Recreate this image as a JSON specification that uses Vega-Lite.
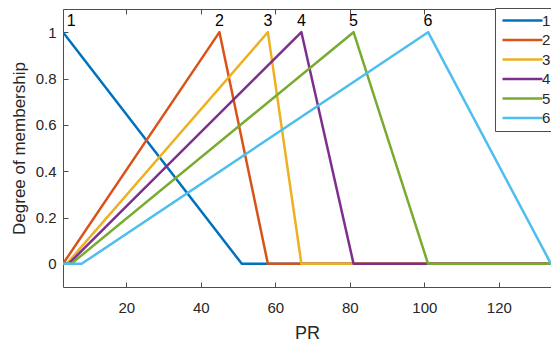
{
  "$schema": "https://vega.github.io/schema/vega-lite/v6.json",
  "autosize": "none",
  "padding": {"left": 63, "top": 9, "right": 0, "bottom": 55},
  "width": 488,
  "height": 278,
  "background": "white",
  "config": {
    "view": {"stroke": null},
    "font": "Liberation Sans",
    "axis": {
      "grid": false,
      "domainColor": "#4d4d4d",
      "tickColor": "#4d4d4d",
      "labelColor": "#262626",
      "titleColor": "#262626",
      "labelFont": "Liberation Sans",
      "titleFont": "Liberation Sans",
      "labelFontSize": 15,
      "titleFontSize": 18,
      "titleFontWeight": "normal",
      "tickSize": -5
    }
  },
  "datasets": {
    "curves": [
      {"set": "1", "order": 1, "pr": 3, "mu": 1},
      {"set": "1", "order": 2, "pr": 51, "mu": 0},
      {"set": "1", "order": 3, "pr": 134, "mu": 0},
      {"set": "2", "order": 1, "pr": 3, "mu": 0},
      {"set": "2", "order": 2, "pr": 45, "mu": 1},
      {"set": "2", "order": 3, "pr": 58, "mu": 0},
      {"set": "2", "order": 4, "pr": 134, "mu": 0},
      {"set": "3", "order": 1, "pr": 3, "mu": 0},
      {"set": "3", "order": 2, "pr": 4, "mu": 0},
      {"set": "3", "order": 3, "pr": 58, "mu": 1},
      {"set": "3", "order": 4, "pr": 67, "mu": 0},
      {"set": "3", "order": 5, "pr": 134, "mu": 0},
      {"set": "4", "order": 1, "pr": 3, "mu": 0},
      {"set": "4", "order": 2, "pr": 4.5, "mu": 0},
      {"set": "4", "order": 3, "pr": 67, "mu": 1},
      {"set": "4", "order": 4, "pr": 81, "mu": 0},
      {"set": "4", "order": 5, "pr": 134, "mu": 0},
      {"set": "5", "order": 1, "pr": 3, "mu": 0},
      {"set": "5", "order": 2, "pr": 5.2, "mu": 0},
      {"set": "5", "order": 3, "pr": 81, "mu": 1},
      {"set": "5", "order": 4, "pr": 101, "mu": 0},
      {"set": "5", "order": 5, "pr": 134, "mu": 0},
      {"set": "6", "order": 1, "pr": 3, "mu": 0},
      {"set": "6", "order": 2, "pr": 8, "mu": 0},
      {"set": "6", "order": 3, "pr": 101, "mu": 1},
      {"set": "6", "order": 4, "pr": 134, "mu": 0}
    ],
    "labels": [
      {"label": "1", "pr": 5.2, "mu": 1.05},
      {"label": "2", "pr": 45, "mu": 1.05},
      {"label": "3", "pr": 58, "mu": 1.05},
      {"label": "4", "pr": 67, "mu": 1.05},
      {"label": "5", "pr": 81, "mu": 1.05},
      {"label": "6", "pr": 101, "mu": 1.05}
    ]
  },
  "resolve": {"axis": {"x": "independent"}},
  "layer": [
    {
      "data": {"name": "curves"},
      "mark": {"type": "line", "strokeWidth": 2.5, "strokeJoin": "round", "clip": true},
      "encoding": {
        "x": {
          "field": "pr", "type": "quantitative",
          "scale": {"domain": [3, 134], "nice": false, "zero": false},
          "axis": {"title": "PR", "values": [20, 40, 60, 80, 100, 120], "labelPadding": 18, "titlePadding": 9}
        },
        "y": {
          "field": "mu", "type": "quantitative",
          "scale": {"domain": [-0.1, 1.1], "nice": false},
          "axis": {"title": "Degree of membership", "values": [0, 0.2, 0.4, 0.6, 0.8, 1], "format": ".1~f", "labelPadding": 12, "titlePadding": 7, "titleFontSize": 17}
        },
        "color": {
          "field": "set", "type": "nominal",
          "scale": {"domain": ["1", "2", "3", "4", "5", "6"], "range": ["#0072BD", "#D95319", "#EDB120", "#7E2F8E", "#77AC30", "#4DBEEE"]},
          "legend": {
            "title": null,
            "orient": "none",
            "legendX": 432,
            "legendY": -1,
            "symbolType": "M-1,0H7",
            "symbolSize": 100,
            "symbolStrokeWidth": 2.5,
            "labelFontSize": 15,
            "labelColor": "#262626",
            "labelFont": "Liberation Sans",
            "labelOffset": 27,
            "rowPadding": 3.5,
            "padding": 5,
            "fillColor": "white",
            "strokeColor": "#4d4d4d"
          }
        },
        "order": {"field": "order", "type": "quantitative"}
      }
    },
    {
      "data": {"name": "labels"},
      "mark": {"type": "text", "fontSize": 16, "font": "Liberation Sans", "color": "#000000", "baseline": "middle", "align": "center"},
      "encoding": {
        "x": {
          "field": "pr", "type": "quantitative",
          "axis": {"orient": "top", "labels": false, "title": null, "values": [20, 40, 60, 80, 100, 120]}
        },
        "y": {"field": "mu", "type": "quantitative"},
        "text": {"field": "label"}
      }
    }
  ]
}
